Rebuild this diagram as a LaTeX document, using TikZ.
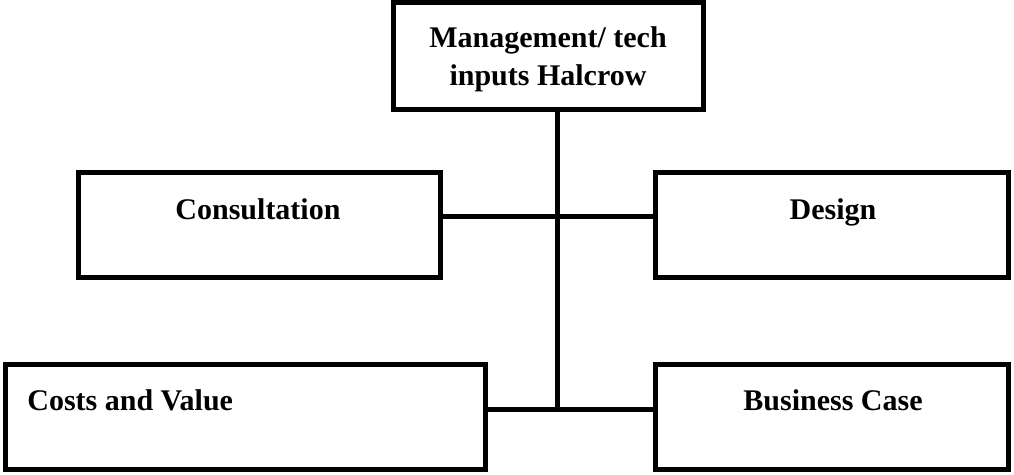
\documentclass[tikz,border=0pt]{standalone}
\usepackage{fontspec}
\setmainfont{Liberation Serif}
\usetikzlibrary{positioning}

\tikzset{
  box/.style={draw, line width=2.5pt, rectangle, inner sep=0pt},
  lbl/.style={font=\bfseries\fontsize{15}{19}\selectfont, inner sep=0pt},
  link/.style={line width=2.5pt}
}

\begin{document}
\begin{tikzpicture}[x=0.5pt, y=-0.5pt]
  \useasboundingbox (0,0) rectangle (1014,475);

  % Boxes
  \node[box, minimum width=155pt, minimum height=53.5pt] (mgmt) at (548,56) {};
  \node[box, minimum width=181pt, minimum height=52.5pt] (cons) at (259,225.5) {};
  \node[box, minimum width=176.5pt, minimum height=52.5pt] (design) at (831.5,225.5) {};
  \node[box, minimum width=240pt, minimum height=52.5pt] (costs) at (245,417.5) {};
  \node[box, minimum width=176.5pt, minimum height=52.5pt] (bcase) at (831.5,417.5) {};

  % Texts
  \node[lbl, align=center] (mgmtT) at (548,59) {Management/ tech\\inputs Halcrow};
  \node[lbl, anchor=base] (consT) at (258,220) {Consultation};
  \node[lbl, anchor=base] (designT) at (833,220) {Design};
  \node[lbl, anchor=base west] (costsT) at (27,411) {Costs and Value};
  \node[lbl, anchor=base] (bcaseT) at (833,411) {Business Case};

  % Junctions
  \coordinate (j1) at (557,217);
  \coordinate (j2) at (557,410);

  % Connectors
  \draw[link] (mgmt.south -| j2) -- (j2);
  \draw[link] (cons.east |- j1) -- (design.west |- j1);
  \draw[link] (costs.east |- j2) -- (bcase.west |- j2);
\end{tikzpicture}
\end{document}
